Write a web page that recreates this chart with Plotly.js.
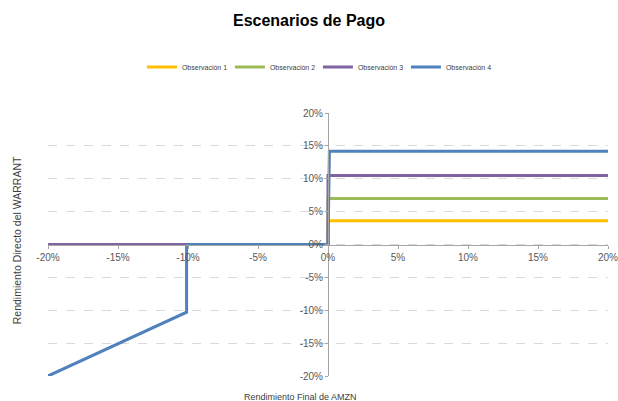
<!DOCTYPE html>
<html>
<head>
<meta charset="utf-8">
<script src="https://cdn.plot.ly/plotly-3.0.1.min.js"></script>
<style>html,body{margin:0;padding:0;background:#fff;}#chart{width:618px;height:401px;}</style>
</head>
<body>
<div id="chart"></div>
<script>
// Data (percent units)
const seriesNames = ["Observación 1", "Observación 2", "Observación 3", "Observación 4"];
const obs1X = [-20, 0, 0, 20];
const obs1Y = [0, 0, 3.6, 3.6];
const obs2X = [-20, 0, 0, 20];
const obs2Y = [0, 0, 7.0, 7.0];
const obs3X = [-20, 0, 0, 20];
const obs3Y = [0, 0, 10.5, 10.5];
const obs4X = [-20, -10.1, -10.1, 0, 0.1, 20];
const obs4Y = [-20, -10.3, 0, 0, 14.2, 14.2];
const tickVals = [-20, -15, -10, -5, 0, 5, 10, 15, 20];
const tickText = ["-20%", "-15%", "-10%", "-5%", "0%", "5%", "10%", "15%", "20%"];
const colors = ["#FFC000", "#9BBB59", "#8064A2", "#4F81BD"];

const xs = [obs1X, obs2X, obs3X, obs4X];
const ys = [obs1Y, obs2Y, obs3Y, obs4Y];
const traces = xs.map((x, i) => ({
  type: "scatter", mode: "lines", x: x, y: ys[i], name: seriesNames[i],
  line: {color: colors[i], width: 3}
}));

const font = "Liberation Sans, Arial, sans-serif";
const layout = {
  width: 618, height: 401,
  margin: {l: 48, r: 10, t: 113, b: 25},
  paper_bgcolor: "#fff", plot_bgcolor: "#fff",
  font: {family: font, color: "#595959", size: 10},
  title: {text: "<b>Escenarios de Pago</b>", font: {family: font, size: 16, color: "#000"},
          x: 0.5, xanchor: "center", y: 0.95, yanchor: "middle"},
  showlegend: true,
  legend: {orientation: "h", x: 0.482, xanchor: "center", y: 1.175, yanchor: "middle",
           font: {family: font, size: 7, color: "#404040"}, itemwidth: 30,
           entrywidth: 43, entrywidthmode: "pixels"},
  xaxis: {range: [-20, 20], anchor: "free", position: 0.5, tickvals: tickVals, ticktext: tickText,
          showgrid: false, zeroline: false, showline: true, linecolor: "#a6a6a6", linewidth: 1,
          ticks: "outside", ticklen: 3, tickcolor: "#a6a6a6", tickfont: {size: 10, color: "#595959"},
          ticklabeloverflow: "allow", fixedrange: true},
  yaxis: {range: [-20, 20], anchor: "free", position: 0.5, tickvals: tickVals, ticktext: tickText,
          showgrid: true, gridcolor: "#d9d9d9", griddash: "dash", gridwidth: 1,
          zeroline: false, showline: true, linecolor: "#a6a6a6", linewidth: 1,
          ticks: "outside", ticklen: 3, tickcolor: "#a6a6a6", tickfont: {size: 10, color: "#595959"},
          ticklabeloverflow: "allow", fixedrange: true},
  annotations: [
    {text: "Rendimiento Final de AMZN", xref: "paper", yref: "paper", x: 0.45, y: -0.078,
     xanchor: "center", yanchor: "middle", showarrow: false, font: {family: font, size: 9, color: "#404040"}},
    {text: "Rendimiento Directo del WARRANT", xref: "paper", yref: "paper", x: -0.055, y: 0.517,
     xanchor: "center", yanchor: "middle", textangle: -90, showarrow: false,
     font: {family: font, size: 10.5, color: "#404040"}}
  ]
};
Plotly.newPlot("chart", traces, layout, {displayModeBar: false, staticPlot: true});
</script>
</body>
</html>
